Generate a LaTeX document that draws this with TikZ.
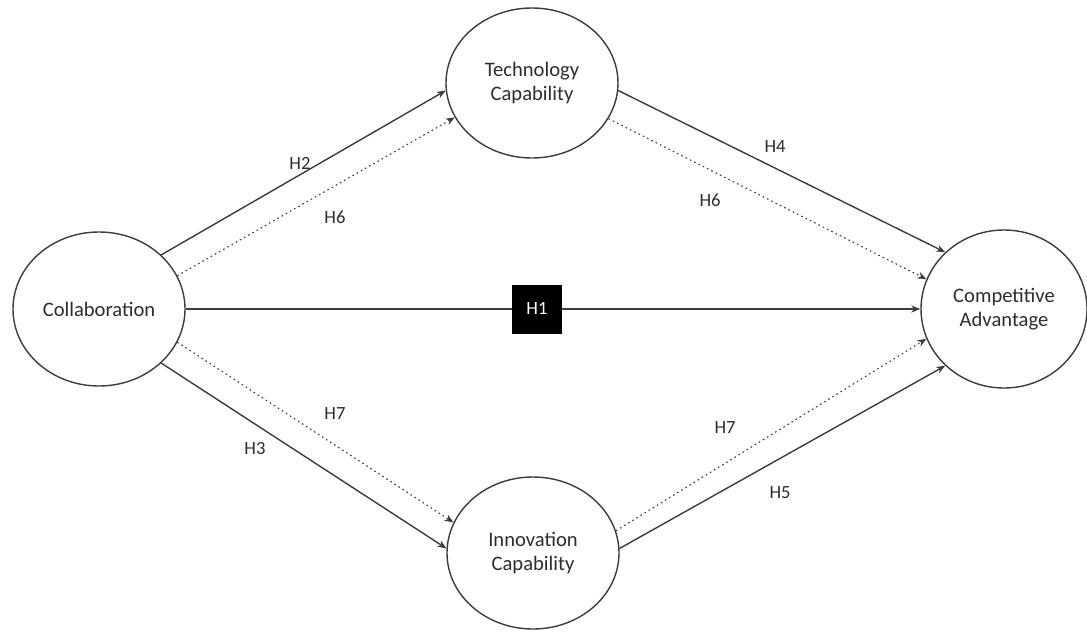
\documentclass[tikz,border=0pt]{standalone}
\usepackage{fontspec}
\setmainfont{Carlito}
\usetikzlibrary{positioning,shapes.geometric,arrows.meta}
\definecolor{linegray}{RGB}{60,60,60}
\definecolor{textgray}{RGB}{45,45,45}

\begin{document}
\begin{tikzpicture}[x=0.5pt,y=-0.5pt,
			construct/.style={ellipse,draw=linegray,line width=0.7pt,
			minimum width=86pt,minimum height=77pt,inner sep=0pt,
			align=center,text=textgray,font=\fontsize{10.3}{12}\selectfont},
			hyp/.style={text=textgray,font=\fontsize{9.3}{11}\selectfont},
			direct/.style={draw=linegray,line width=0.7pt,
			-{Stealth[length=4.5pt,width=3.5pt]}},
			mediated/.style={direct,line width=0.55pt,dash pattern=on 0.8pt off 1.6pt}
			]
		\useasboundingbox (0,0) rectangle (1087,637);
		\node[construct] (collab) at (99,309) {Collaboration};
		\node[construct,minimum height=75pt] (techcap) at (532,83) {Technology\\Capability};
		\node[construct,minimum height=76pt] (innocap) at (533,553) {Innovation\\Capability};
		\node[construct,minimum width=83pt,minimum height=79pt] (compadv) at (1004,309) {Competitive\\Advantage};
		\node[fill=black,minimum width=25pt,minimum height=24.5pt,inner sep=0pt,
			text=white,font=\fontsize{9.3}{11}\selectfont] (hone) at (537,309) {H1};
		% direct paths
		\draw[linegray,line width=0.7pt] (collab.0) -- (hone);
		\draw[direct] (hone) -- (compadv.180);
		\draw[direct] (collab.41) -- (techcap.185);
		\draw[direct] (collab.-41) -- (innocap.177);
		\draw[direct] (techcap.-5) -- (compadv.136);
		\draw[direct] (innocap.3) -- (compadv.224);
		% mediation paths
		\draw[mediated] (collab.23) -- (techcap.204);
		\draw[mediated] (techcap.-25) -- (compadv.159);
		\draw[mediated] (collab.-23) -- (innocap.159);
		\draw[mediated] (innocap.15) -- (compadv.201);
		% labels
		\node[hyp] (htwo) at (300,163) {H2};
		\node[hyp] (hsixa) at (335,217) {H6};
		\node[hyp] (hfour) at (775,147) {H4};
		\node[hyp] (hsixb) at (710,200) {H6};
		\node[hyp] (hsevena) at (335,414) {H7};
		\node[hyp] (hthree) at (255,449) {H3};
		\node[hyp] (hsevenb) at (725,428) {H7};
		\node[hyp] (hfive) at (780,493) {H5};
	\end{tikzpicture}
\end{document}
